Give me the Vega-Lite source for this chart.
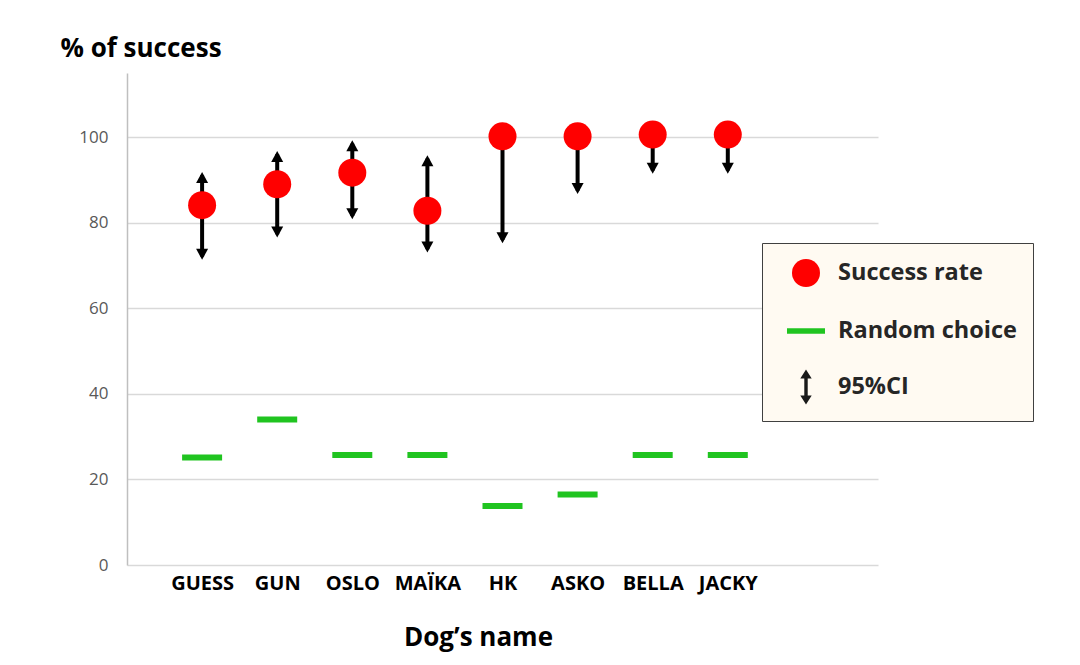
{
  "$schema": "https://vega.github.io/schema/vega-lite/v6.json",
  "width": 751,
  "height": 492,
  "autosize": {"type": "none"},
  "padding": {"left": 127, "top": 73, "right": 202, "bottom": 100},
  "background": "white",
  "config": {
    "font": "Open Sans",
    "view": {"stroke": null},
    "legend": {
      "title": null,
      "orient": "none",
      "legendX": 635,
      "legendY": 170,
      "fillColor": "#fffaf2",
      "strokeColor": "#404040",
      "padding": 16,
      "rowPadding": 25,
      "symbolOffset": 9,
      "labelOffset": 13,
      "labelFontSize": 23.5,
      "labelFontWeight": "bold",
      "labelColor": "#262626",
      "labelLimit": 300,
      "symbolStrokeWidth": 0,
      "symbolOpacity": 1
    }
  },
  "data": {
    "values": [
      {"dog": "GUESS", "Success rate": 84.1, "lo": 72.1, "hi": 91.1, "Random choice": 25.1},
      {"dog": "GUN", "Success rate": 89.0, "lo": 77.3, "hi": 96.0, "Random choice": 34.0},
      {"dog": "OSLO", "Success rate": 91.7, "lo": 81.6, "hi": 98.5, "Random choice": 25.7},
      {"dog": "MAÏKA", "Success rate": 82.8, "lo": 73.8, "hi": 95.0, "Random choice": 25.7},
      {"dog": "HK", "Success rate": 100.2, "lo": 76.0, "hi": null, "Random choice": 13.8},
      {"dog": "ASKO", "Success rate": 100.2, "lo": 87.5, "hi": null, "Random choice": 16.5},
      {"dog": "BELLA", "Success rate": 100.6, "lo": 92.2, "hi": null, "Random choice": 25.7},
      {"dog": "JACKY", "Success rate": 100.6, "lo": 92.2, "hi": null, "Random choice": 25.7}
    ]
  },
  "encoding": {
    "x": {
      "field": "dog",
      "type": "nominal",
      "sort": null,
      "scale": {
        "type": "point",
        "domain": ["GUESS", "GUN", "OSLO", "MAÏKA", "HK", "ASKO", "BELLA", "JACKY", " ", "  "],
        "padding": 0.5,
        "align": 1
      },
      "axis": {
        "title": "Dog’s name",
        "labelAngle": 0,
        "labelFontSize": 20,
        "labelFontWeight": "bold",
        "labelColor": "#000000",
        "labelPadding": 8,
        "labelBaseline": "top",
        "ticks": false,
        "domain": false,
        "grid": false,
        "titleFontSize": 26,
        "titleFontWeight": "bold",
        "titleColor": "#000000",
        "titleAlign": "center",
        "titleBaseline": "alphabetic",
        "titleX": 351,
        "titleY": 80
      }
    }
  },
  "layer": [
    {
      "mark": {"type": "rule", "strokeWidth": 4, "color": "#000000"},
      "encoding": {
        "y": {
          "field": "lo",
          "type": "quantitative",
          "scale": {"domain": [0, 115], "nice": false},
          "title": "% of success",
          "axis": {
            "values": [0, 20, 40, 60, 80, 100],
            "grid": true,
            "gridColor": "#d9d9d9",
            "gridWidth": 1.5,
            "domainColor": "#bfbfbf",
            "domainWidth": 1.5,
            "ticks": false,
            "labelPadding": 19,
            "labelFontSize": 17,
            "labelColor": "#595959",
            "titleAngle": 0,
            "titleAlign": "left",
            "titleBaseline": "alphabetic",
            "titleX": -67,
            "titleY": -17,
            "titleFontSize": 26,
            "titleFontWeight": "bold",
            "titleColor": "#000000"
          }
        },
        "y2": {"field": "Success rate"}
      }
    },
    {
      "transform": [{"filter": "datum.hi != null"}],
      "mark": {"type": "rule", "strokeWidth": 4, "color": "#000000"},
      "encoding": {
        "y": {"field": "Success rate", "type": "quantitative", "title": "% of success"},
        "y2": {"field": "hi"}
      }
    },
    {
      "mark": {"type": "point", "filled": true, "opacity": 1, "color": "#000000", "strokeWidth": 0, "size": 144, "shape": "M0,-0.55L1,1.28L-1,1.28Z"},
      "encoding": {
        "y": {"field": "hi", "type": "quantitative", "title": "% of success"}
      }
    },
    {
      "mark": {"type": "point", "filled": true, "opacity": 1, "color": "#000000", "strokeWidth": 0, "size": 144, "shape": "M0,0.55L1,-1.28L-1,-1.28Z"},
      "encoding": {
        "y": {"field": "lo", "type": "quantitative", "title": "% of success"}
      }
    },
    {
      "transform": [{"fold": ["Random choice"], "as": ["series", "value"]}],
      "mark": {"type": "tick", "size": 40, "thickness": 6, "opacity": 1},
      "encoding": {
        "y": {"field": "value", "type": "quantitative", "title": "% of success"},
        "color": {
          "field": "series",
          "type": "nominal",
          "scale": {"domain": ["Success rate", "Random choice", "95%CI"], "range": ["#ff0000", "#20c420", "#1a1a1a"]}
        }
      }
    },
    {
      "transform": [{"fold": ["Success rate"], "as": ["series", "value"]}],
      "mark": {"type": "point", "filled": true, "opacity": 1, "strokeWidth": 0},
      "encoding": {
        "y": {"field": "value", "type": "quantitative", "title": "% of success"},
        "color": {
          "field": "series",
          "type": "nominal",
          "scale": {"domain": ["Success rate", "Random choice", "95%CI"], "range": ["#ff0000", "#20c420", "#1a1a1a"]}
        },
        "shape": {
          "field": "series",
          "type": "nominal",
          "scale": {"domain": ["Success rate", "Random choice", "95%CI"], "range": ["circle", "M-1,-0.15H1V0.15H-1Z", "M-0.09,-0.45L-0.3,-0.45L0,-0.92L0.3,-0.45L0.09,-0.45L0.09,0.45L0.3,0.45L0,0.92L-0.3,0.45L-0.09,0.45Z"]}
        },
        "size": {
          "field": "series",
          "type": "nominal",
          "scale": {"type": "ordinal", "domain": ["Success rate", "Random choice", "95%CI"], "range": [784, 1444, 1444]}
        }
      }
    }
  ]
}
